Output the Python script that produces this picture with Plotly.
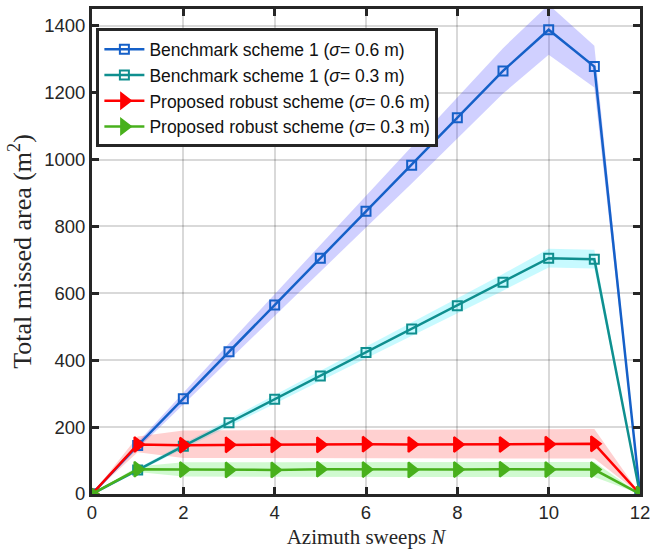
import plotly.graph_objects as go

# Azimuth sweeps
N = [0, 1, 2, 3, 4, 5, 6, 7, 8, 9, 10, 11, 12]

# Mean total missed area (m^2)
bench_06 = [0, 145, 285, 425, 565, 705, 845, 983, 1125, 1265, 1388, 1278, 0]
bench_03 = [0, 72, 143, 213, 283, 353, 423, 493, 563, 633, 705, 702, 0]
robust_06 = [0, 148, 146, 147, 147, 147, 149, 148, 148, 148, 149, 150, 0]
robust_03 = [0, 74, 73, 72, 72, 74, 73, 72, 73, 74, 73, 73, 0]

# Spread bands (lower / upper)
bench_06_lo = [0, 135, 267, 400, 533, 665, 797, 928, 1063, 1197, 1313, 1215, 0]
bench_06_hi = [0, 155, 303, 450, 597, 745, 893, 1038, 1187, 1333, 1463, 1340, 0]
bench_03_lo = [0, 67, 135, 203, 270, 338, 406, 473, 541, 608, 677, 674, 0]
bench_03_hi = [0, 77, 151, 223, 296, 368, 440, 513, 585, 658, 733, 730, 0]
robust_06_lo = [0, 125, 108, 107, 106, 106, 107, 106, 106, 106, 106, 106, 0]
robust_06_hi = [0, 172, 190, 191, 191, 191, 192, 192, 192, 192, 193, 194, 0]
robust_03_lo = [0, 66, 52, 51, 51, 52, 51, 51, 51, 52, 51, 51, 0]
robust_03_hi = [0, 82, 95, 95, 95, 96, 96, 95, 96, 96, 96, 96, 0]

series = [
    ("Benchmark scheme 1 (<i>σ</i>= 0.6 m)", bench_06, bench_06_lo, bench_06_hi,
     "#1560c8", "rgba(40,40,255,0.22)", "square-open", 9),
    ("Benchmark scheme 1 (<i>σ</i>= 0.3 m)", bench_03, bench_03_lo, bench_03_hi,
     "#0f8f8f", "rgba(0,230,255,0.22)", "square-open", 9),
    ("Proposed robust scheme (<i>σ</i>= 0.6 m)", robust_06, robust_06_lo, robust_06_hi,
     "#ff0000", "rgba(255,40,40,0.22)", "triangle-right", 13),
    ("Proposed robust scheme (<i>σ</i>= 0.3 m)", robust_03, robust_03_lo, robust_03_hi,
     "#48b01c", "rgba(40,230,40,0.22)", "triangle-right", 13),
]

fig = go.Figure()

# shaded spread regions
for name, y, lo, hi, col, band, sym, sz in series:
    fig.add_trace(go.Scatter(
        x=N + N[::-1], y=hi + lo[::-1], fill="toself", fillcolor=band,
        line=dict(width=0), mode="lines", hoverinfo="skip", showlegend=False))

# mean curves
for name, y, lo, hi, col, band, sym, sz in series:
    fig.add_trace(go.Scatter(
        x=N, y=y, name=name, mode="lines+markers",
        line=dict(color=col, width=2.5),
        marker=dict(symbol=sym, size=sz, color=col, line=dict(color=col, width=2))))

axis_common = dict(
    showline=True, linecolor="#262626", linewidth=3, mirror="ticks",
    ticks="inside", ticklen=7, tickwidth=3, tickcolor="#262626",
    showgrid=True, gridcolor="rgba(0,0,0,0.15)", gridwidth=2,
    zeroline=False, automargin=False,
    tickfont=dict(family="Liberation Sans, Arial", size=18.5, color="#262626"),
)

fig.update_xaxes(range=[0, 12], dtick=2,
                 title=dict(text="Azimuth sweeps <i>N</i>", standoff=8,
                            font=dict(family="Liberation Serif, serif", size=21, color="#262626")),
                 **axis_common)
fig.update_yaxes(range=[0, 1450], dtick=200,
                 title=dict(text="Total missed area (m<sup>2</sup>)", standoff=6,
                            font=dict(family="Liberation Serif, serif", size=26, color="#262626")),
                 **axis_common)

fig.update_layout(
    width=651, height=554,
    margin=dict(l=92, r=11, t=9, b=60),
    plot_bgcolor="white", paper_bgcolor="white",
    legend=dict(x=0.008, y=0.96, xanchor="left", yanchor="top",
                bgcolor="white", bordercolor="#262626", borderwidth=3,
                font=dict(family="Liberation Sans, Arial", size=17.5, color="#111111"),
                itemwidth=40, tracegroupgap=0),
)

fig.write_html("out.html")
